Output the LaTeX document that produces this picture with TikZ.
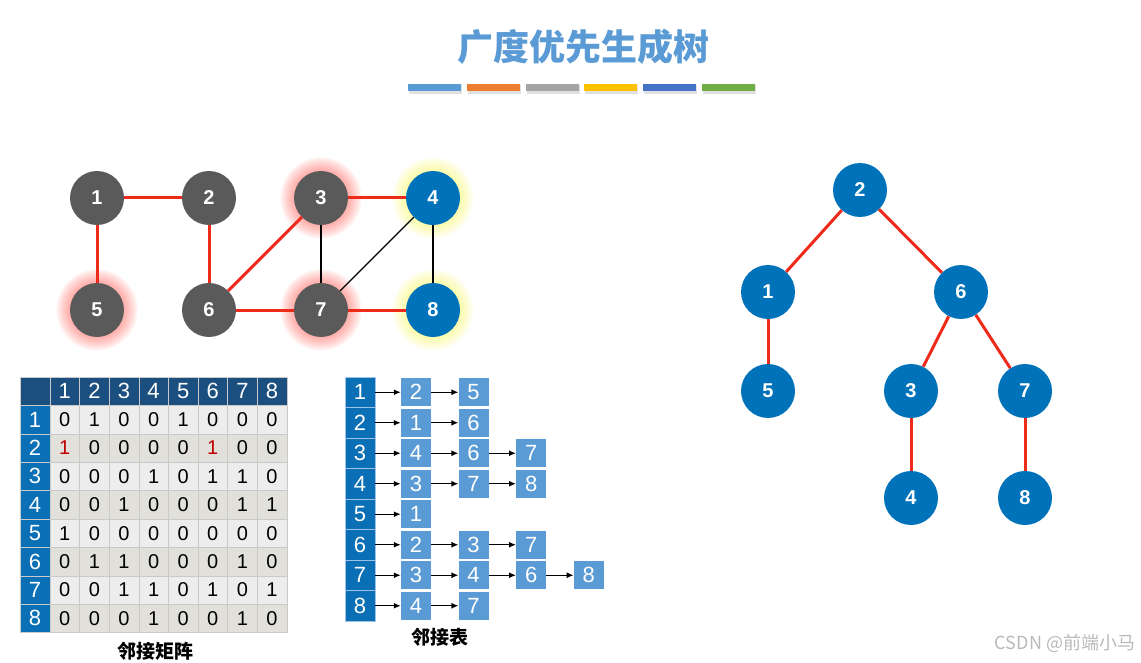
\documentclass[tikz,border=0pt]{standalone}
\usepackage{fontspec}
\setmainfont{Liberation Sans}
\newfontfamily\cjk{Noto Sans CJK SC}
\usepackage{tikz}
\usetikzlibrary{arrows.meta,backgrounds}
\definecolor{titleblue}{HTML}{5B9BD5}
\definecolor{barorange}{HTML}{ED7D31}
\definecolor{bargray}{HTML}{A5A5A5}
\definecolor{baryellow}{HTML}{FFC000}
\definecolor{barblue}{HTML}{4472C4}
\definecolor{bargreen}{HTML}{70AD47}
\definecolor{nodegray}{HTML}{5A5A5A}
\definecolor{nodeblue}{HTML}{0072BA}
\definecolor{edgered}{HTML}{EE2A1B}
\definecolor{glowred}{HTML}{FF4A40}
\definecolor{glowyellow}{HTML}{F6F64A}
\definecolor{headnavy}{HTML}{1B4F80}
\definecolor{headblue}{HTML}{0A6FB5}
\definecolor{rowlight}{HTML}{EDEDED}
\definecolor{rowdark}{HTML}{E1E0DB}
\definecolor{gridgray}{HTML}{C9C9C9}
\definecolor{hlred}{HTML}{C00000}
\newcommand\hl[1]{\textcolor{hlred}{#1}}
\newcommand\numfont{\fontsize{20}{22}\selectfont}
\tikzset{
  >={Latex[length=7pt,width=6pt]},
  gnode/.style={circle,fill=nodegray,minimum size=54pt,inner sep=0pt,
                text=white,font=\bfseries\numfont},
  bnode/.style={gnode,fill=nodeblue},
  redge/.style={draw=edgered,line width=3pt},
  kedge/.style={draw=black,line width=1.3pt},
  cell/.style={minimum width=29.6pt,minimum height=28.4pt,inner sep=0pt,
               draw=gridgray,line width=.6pt,font=\numfont},
  hcell/.style={cell,fill=headnavy,text=white,font=\fontsize{22}{24}\selectfont},
  rcell/.style={hcell,fill=headblue,minimum width=30pt},
  lhead/.style={minimum width=30pt,minimum height=30.5pt,inner sep=0pt,
                fill=headblue,draw=titleblue!60,line width=.6pt,text=white,
                font=\fontsize{22}{24}\selectfont},
  lbox/.style={minimum width=30pt,minimum height=28pt,inner sep=0pt,
               fill=titleblue,text=white,font=\fontsize{22}{24}\selectfont},
  listarrow/.style={->,draw=black,line width=1.3pt},
  caption/.style={font=\cjk\bfseries\fontsize{19}{21}\selectfont},
}
\begin{document}
\begin{tikzpicture}[x=1pt,y=-1pt]
  \useasboundingbox (0,0) rectangle (1141,663);
  % title and colour bars
  \node[text=titleblue,font=\cjk\bfseries\fontsize{36}{40}\selectfont] (title) at (583,47) {广度优先生成树};
  \foreach \c [count=\n] in {titleblue,barorange,bargray,baryellow,barblue,bargreen} {
    \fill[black,opacity=.12] ({408+58.8*(\n-1)+1},85) rectangle ++(53,9);
    \fill[\c] ({408+58.8*(\n-1)},84) rectangle ++(53,7);
  }
  % graph
  \node[gnode] (g1) at (97,198) {1};
  \node[gnode] (g2) at (209,198) {2};
  \node[gnode] (g3) at (321,198) {3};
  \node[bnode] (g4) at (433,198) {4};
  \node[gnode] (g5) at (97,310) {5};
  \node[gnode] (g6) at (209,310) {6};
  \node[gnode] (g7) at (321,310) {7};
  \node[bnode] (g8) at (433,310) {8};
  \begin{scope}[on background layer]
    \foreach \g/\c in {g3/glowred,g5/glowred,g7/glowred,g4/glowyellow,g8/glowyellow}
      \foreach \s in {1,...,8}
        \fill[\c,opacity=.065] (\g) circle ({27+1.7*\s});
  \end{scope}
  \draw[redge] (g1) -- (g2);
  \draw[redge] (g1) -- (g5);
  \draw[redge] (g2) -- (g6);
  \draw[redge] (g6) -- (g3);
  \draw[redge] (g6) -- (g7);
  \draw[redge] (g3) -- (g4);
  \draw[redge] (g7) -- (g8);
  \draw[kedge] (g3) -- (g7);
  \draw[kedge] (g7) -- (g4);
  \draw[kedge] (g4) -- (g8);
  % adjacency matrix
  \node[hcell,minimum width=30pt] (h-0) at (35,391.2) {};
  \foreach \j in {1,...,8}
    \node[hcell] (h-\j) at ({50+29.6*(\j-0.5)},391.2) {\j};
  \foreach \row [count=\i] in {{0,1,0,0,1,0,0,0},{\hl1,0,0,0,0,\hl1,0,0},
      {0,0,0,1,0,1,1,0},{0,0,1,0,0,0,1,1},{1,0,0,0,0,0,0,0},
      {0,1,1,0,0,0,1,0},{0,0,1,1,0,1,0,1},{0,0,0,1,0,0,1,0}} {
    \ifodd\i \def\rowfill{rowlight}\else\def\rowfill{rowdark}\fi
    \node[rcell] (r-\i) at (35,{377+28.4*(\i+0.5)}) {\i};
    \foreach \v [count=\j] in \row
      \node[cell,fill=\rowfill] (m-\i-\j) at ({50+29.6*(\j-0.5)},{377+28.4*(\i+0.5)}) {\v};
  }
  \node[caption] (matlabel) at (155,651) {邻接矩阵};
  % adjacency list
  \foreach \lst [count=\r] in {{2,5},{1,6},{4,6,7},{3,7,8},{1},{2,3,7},{3,4,6,8},{4,7}} {
    \node[lhead] (a-\r-0) at (360,{377+30.5*(\r-0.5)}) {\r};
    \foreach \v [count=\k, evaluate=\k as \p using int(\k-1)] in \lst {
      \node[lbox] (a-\r-\k) at ({416+57.6*(\k-1)},{377+30.5*(\r-0.5)}) {\v};
      \draw[listarrow] (a-\r-\p) -- (a-\r-\k);
    }
  }
  \node[caption] (lstlabel) at (440,637) {邻接表};
  % spanning tree
  \node[bnode] (t2) at (860,190) {2};
  \node[bnode] (t1) at (768,292) {1};
  \node[bnode] (t6) at (961,292) {6};
  \node[bnode] (t5) at (768,391) {5};
  \node[bnode] (t3) at (911,391) {3};
  \node[bnode] (t7) at (1025,391) {7};
  \node[bnode] (t4) at (911,498) {4};
  \node[bnode] (t8) at (1025,498) {8};
  \draw[redge] (t2) -- (t1);
  \draw[redge] (t2) -- (t6);
  \draw[redge] (t1) -- (t5);
  \draw[redge] (t6) -- (t3);
  \draw[redge] (t6) -- (t7);
  \draw[redge] (t3) -- (t4);
  \draw[redge] (t7) -- (t8);
  \node[text=gray!55,font=\cjk\fontsize{18}{20}\selectfont] (mark) at (1065,643) {CSDN @前端小马};
\end{tikzpicture}
\end{document}
